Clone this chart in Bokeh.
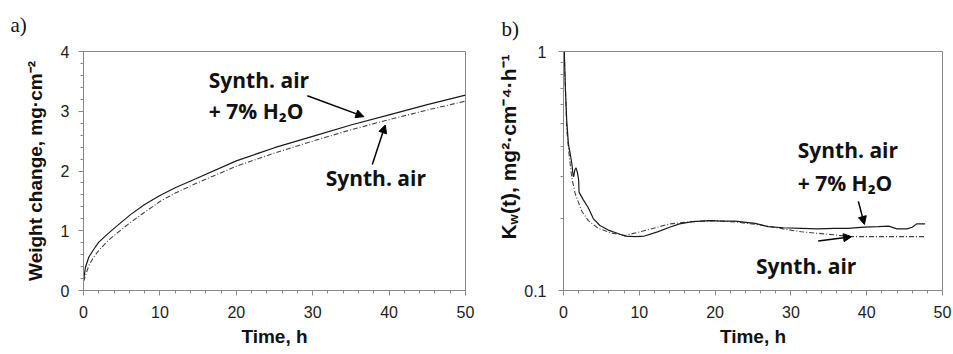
import math
from bokeh.plotting import figure
from bokeh.layouts import row
from bokeh.models import FixedTicker, Label, Arrow, NormalHead, Range1d, Title
from bokeh.embed import file_html
from bokeh.resources import INLINE

# ---------------- data (a) weight change ----------------
t_a = [0, 0.26, 0.7, 1.35, 2.0, 3.1, 4.0, 6.15, 8.0, 10, 12, 14.7, 20, 25, 30, 35, 40, 45, 50]
w_h2o = [0.17, 0.39, 0.56, 0.69, 0.81, 0.94, 1.04, 1.27, 1.44, 1.59, 1.72, 1.87, 2.17, 2.39, 2.58,
         2.77, 2.94, 3.11, 3.27]
w_air = [0.15, 0.25, 0.42, 0.56, 0.67, 0.82, 0.92, 1.14, 1.31, 1.49, 1.63, 1.79, 2.08, 2.30, 2.50,
         2.69, 2.86, 3.02, 3.17]

# ---------------- data (b) Kw(t) ----------------
t_b_h2o = [0.1, 0.25, 0.43, 0.65, 0.88, 1.1, 1.28, 1.35, 1.5, 1.66, 1.85, 2.0, 2.05, 2.6, 3.27,
           3.93, 4.8, 5.9, 7.0, 8.1, 9.5, 10.7, 12.4, 14, 15.3, 17, 19.2, 21, 22.6, 25.3, 27, 29,
           31.4, 33.5, 35.7, 37.5, 39.7, 41.5, 42.9, 44, 45.3, 46, 46.6, 47.7]
k_h2o = [1.0, 0.7, 0.51, 0.41, 0.374, 0.34, 0.30, 0.30, 0.32, 0.326, 0.31, 0.29, 0.258, 0.24,
         0.222, 0.20, 0.187, 0.179, 0.174, 0.169, 0.168, 0.169, 0.176, 0.184, 0.19, 0.194, 0.196,
         0.195, 0.195, 0.191, 0.185, 0.183, 0.182, 0.181, 0.182, 0.182, 0.184, 0.185, 0.186,
         0.181, 0.181, 0.184, 0.19, 0.19]
t_b_air = [0.1, 0.25, 0.43, 0.7, 1.09, 1.53, 2.4, 3.27, 4.58, 6.3, 8.1, 9.8, 12.4, 14, 17, 20, 23,
           26, 29, 31.4, 34, 35.7, 37.9, 40, 44, 47.7]
k_air = [1.0, 0.7, 0.47, 0.38, 0.297, 0.255, 0.215, 0.196, 0.182, 0.174, 0.170, 0.175, 0.184,
         0.19, 0.194, 0.196, 0.193, 0.188, 0.181, 0.176, 0.173, 0.171, 0.168, 0.168, 0.168, 0.168]

x_ticks = [0, 10, 20, 30, 40, 50]
x_minor = [i * 2 for i in range(26)]
ya_ticks = [0, 1, 2, 3, 4]
ya_minor = [round(i * 0.2, 1) for i in range(21)]
yb_ticks = [0.1, 1]
yb_minor = [0.2, 0.3, 0.4, 0.5, 0.6, 0.7, 0.8, 0.9]

GRAY = "#8a8a8a"
LINE = "#1a1a1a"
DASH = "#444444"
TXT = "#111111"
ANN_FONT = "Open Sans"
AX_FONT = "Liberation Sans"


def style(p, ystand, xstand):
    p.outline_line_color = GRAY
    p.outline_line_width = 1
    p.xgrid.visible = False
    p.ygrid.visible = False
    p.background_fill_color = "white"
    p.border_fill_color = "white"
    for ax in (p.xaxis[0], p.yaxis[0]):
        ax.axis_line_color = GRAY
        ax.major_tick_line_color = GRAY
        ax.minor_tick_line_color = GRAY
        ax.major_tick_in = 0
        ax.major_tick_out = 5
        ax.minor_tick_in = 0
        ax.minor_tick_out = 3
        ax.major_label_text_font = AX_FONT
        ax.major_label_text_font_size = "16px"
        ax.major_label_text_color = "#222222"
        ax.axis_label_text_font = AX_FONT
        ax.axis_label_text_font_style = "bold"
        ax.axis_label_text_color = TXT
    p.yaxis[0].major_label_standoff = ystand
    p.xaxis[0].major_label_standoff = xstand
    p.xaxis[0].axis_label = "Time, h"
    p.xaxis[0].axis_label_text_font_size = "19px"
    p.xaxis[0].axis_label_standoff = 5


def ann(p, x, y, text):
    p.add_layout(Label(x=x, y=y, text=text, text_font=ANN_FONT, text_font_style="bold",
                       text_font_size="21px", text_color=TXT, text_baseline="alphabetic",
                       text_align="left"))


def arrow(p, x0, y0, x1, y1):
    p.add_layout(Arrow(end=NormalHead(size=8, fill_color="black", line_color="black", line_width=1),
                       x_start=x0, y_start=y0, x_end=x1, y_end=y1,
                       line_color="black", line_width=1.5))


def panel_title(p, text, offset, standoff):
    p.add_layout(Title(text=text, align="left", offset=offset, standoff=standoff,
                       vertical_align="top",
                       text_font="Liberation Serif", text_font_style="normal",
                       text_font_size="21px", text_color=TXT), "above")


def slabel(p, x, y, text, size):
    p.add_layout(Label(x=x, y=y, text=text, x_units="screen", y_units="screen",
                       angle=math.pi / 2, text_font=AX_FONT, text_font_style="bold",
                       text_font_size=size, text_color=TXT, text_baseline="alphabetic",
                       text_align="left"))


# ---------------- figure a ----------------
pa = figure(width=477, height=354, min_border_left=83, min_border_right=12,
            min_border_top=50, min_border_bottom=64, output_backend="svg",
            toolbar_location=None, x_range=Range1d(0, 50), y_range=Range1d(0, 4))
style(pa, 9, 10)
pa.xaxis[0].ticker = FixedTicker(ticks=x_ticks, minor_ticks=x_minor)
pa.yaxis[0].ticker = FixedTicker(ticks=ya_ticks, minor_ticks=ya_minor)
pa.yaxis[0].axis_label = "Weight change, mg·cm⁻²"
pa.yaxis[0].axis_label_text_font_size = "19px"
pa.yaxis[0].axis_label_standoff = 12
pa.line(t_a, w_air, line_color=DASH, line_width=1.1, line_dash="5 2 1 2")
pa.line(t_a, w_h2o, line_color=LINE, line_width=1.2)

ann(pa, 16.4, 3.52, "Synth. air")
ann(pa, 16.4, 3.01, "+ 7% H₂O")
ann(pa, 31.7, 1.88, "Synth. air")
arrow(pa, 29.3, 3.26, 36.7, 2.91)
arrow(pa, 37.8, 2.11, 39.5, 2.77)
panel_title(pa, "a)", -73, 25)

# ---------------- figure b ----------------
pb = figure(width=432, height=354, min_border_left=39, min_border_right=11,
            min_border_top=43, min_border_bottom=61, output_backend="svg",
            toolbar_location=None, x_range=Range1d(0, 50), y_range=Range1d(0.1, 1),
            y_axis_type="log")
style(pb, 12, 10)
pb.xaxis[0].ticker = FixedTicker(ticks=x_ticks, minor_ticks=x_minor)
pb.yaxis[0].ticker = FixedTicker(ticks=yb_ticks, minor_ticks=yb_minor)
pb.yaxis[0].major_label_overrides = {0.1: "0.1", 1: "1"}
pb.line(t_b_air, k_air, line_color=DASH, line_width=1.1, line_dash="5 2 1 2")
pb.line(t_b_h2o, k_h2o, line_color=LINE, line_width=1.2)

ann(pb, 30.9, 0.387, "Synth. air")
ann(pb, 30.9, 0.281, "+ 7% H₂O")
ann(pb, 25.4, 0.127, "Synth. air")
arrow(pb, 38.9, 0.236, 39.7, 0.189)
arrow(pb, 33.6, 0.161, 38.0, 0.168)

# y-axis title of (b) with its subscript, and the panel letter, in a narrow text strip
side_b = figure(width=44, height=354, min_border=0, min_border_left=0, min_border_right=0,
                min_border_top=0, min_border_bottom=0, x_axis_location=None,
                y_axis_location=None, toolbar_location=None, output_backend="svg",
                x_range=Range1d(0, 1), y_range=Range1d(0, 1))
side_b.outline_line_color = None
side_b.xgrid.visible = False
side_b.ygrid.visible = False
slabel(side_b, 31, 51, "K", "21px")
slabel(side_b, 36, 66, "w", "13px")
slabel(side_b, 31, 76.5, "(t), mg²·cm⁻⁴·h⁻¹", "21px")
panel_title(side_b, "b)", 24, 17)

layout = row(pa, side_b, pb)
open("out.html", "w").write(file_html(layout, INLINE))
